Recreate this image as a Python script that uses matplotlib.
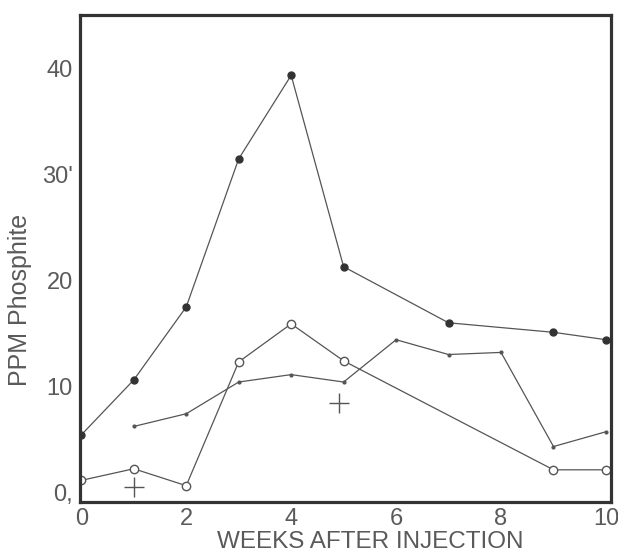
import matplotlib
matplotlib.use("Agg")
import matplotlib.pyplot as plt

# phosphite levels (ppm vs weeks after injection)
weeks_a = [0, 1, 2, 3, 4, 5, 7, 9, 10]
ppm_a = [5.4, 10.6, 17.5, 31.5, 39.4, 21.3, 16.0, 15.1, 14.4]

weeks_b = [0, 1, 2, 3, 4, 5, 9, 10]
ppm_b = [1.1, 2.2, 0.6, 12.3, 15.9, 12.4, 2.1, 2.1]

weeks_c = [1, 2, 3, 4, 5, 6, 7, 8, 9, 10]
ppm_c = [6.2, 7.4, 10.4, 11.1, 10.4, 14.4, 13.0, 13.2, 4.3, 5.7]

weeks_plus = [1, 4.92]
ppm_plus = [0.5, 8.4]

xticks = [0, 2, 4, 6, 8, 10]
yticks = [0, 10, 20, 30, 40]
ytick_labels = ["0,", "10", "20", "30'", "40"]

plt.rcParams['font.family'] = ['Liberation Sans', 'DejaVu Sans']
line_col = "#555555"
text_col = "#5a5a5a"

fig = plt.figure(figsize=(6.18, 5.56), dpi=100)
ax = fig.add_axes([0.129, 0.097, 0.860, 0.876])

ax.plot(weeks_a, ppm_a, '-o', color=line_col, lw=0.9, ms=5,
        mfc="#333333", mec="#333333")
ax.plot(weeks_b, ppm_b, '-o', color=line_col, lw=0.9, ms=6,
        mfc="white", mec=line_col, mew=1.0)
ax.plot(weeks_c, ppm_c, '-o', color=line_col, lw=0.9, ms=2,
        mfc=line_col, mec=line_col)
ax.plot(weeks_plus, ppm_plus, '+', color=line_col, ms=14, mew=1.0)

ax.set_xlim(-0.03, 10.1)
ax.set_ylim(-0.95, 45.1)
ax.set_xticks(xticks)
ax.set_yticks(yticks)
ax.set_yticklabels(ytick_labels)
ax.tick_params(length=0, labelsize=17, colors=text_col)
ax.tick_params(axis='x', pad=4.5)
ax.tick_params(axis='y', pad=5)

for s in ax.spines.values():
    s.set_linewidth(2.3)
    s.set_color("#333333")

ax.set_xlabel("WEEKS AFTER INJECTION", fontsize=17.5, color=text_col)
ax.xaxis.set_label_coords(0.546, -0.060)
ax.set_ylabel("PPM Phosphite", fontsize=18, color=text_col)
ax.yaxis.set_label_coords(-0.089, 0.415)

fig.savefig("out.png", dpi=100)
